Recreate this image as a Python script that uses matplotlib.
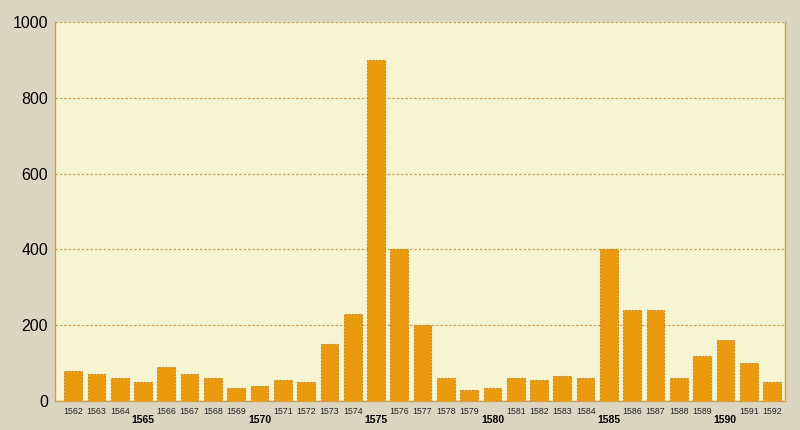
import matplotlib.pyplot as plt
import numpy as np

plt.rcParams['font.family'] = ['Liberation Sans', 'DejaVu Sans']

years = list(range(1562, 1593))
values = [80, 70, 60, 50, 90, 70, 60, 35, 40, 55, 50, 150, 230, 900, 400, 200,
          60, 30, 35, 60, 55, 65, 60, 400, 240, 240, 60, 120, 160, 100, 50]
y_ticks = [0, 200, 400, 600, 800, 1000]

fig = plt.figure(figsize=(8, 4.3), dpi=100, facecolor='#dad6c2')
ax = fig.add_axes([55 / 800, 29 / 430, 730 / 800, 379 / 430])
ax.set_facecolor('#f7f4d2')

x = np.arange(len(years))
ax.bar(x, values, width=0.76, color='#eb9a0e', edgecolor='#c98a20',
       linewidth=0.8, linestyle=(0, (2, 1)), zorder=3)

ax.set_ylim(0, 1000)
ax.set_xlim(-0.78, len(years) - 1 + 0.56)
ax.set_yticks(y_ticks)
ax.set_yticklabels([str(v) for v in y_ticks], fontsize=11.5)
ax.yaxis.grid(True, color='#cf9f55', linestyle=(0, (2, 1.5)), linewidth=0.9)
ax.set_axisbelow(True)
ax.tick_params(axis='y', length=0, pad=5)
ax.tick_params(axis='x', length=0)

ax.set_xticks(x)
ax.set_xticklabels([''] * len(years))
for i, yr in enumerate(years):
    if yr % 5 == 0:
        ax.text(i, -0.038, str(yr), transform=ax.get_xaxis_transform(),
                ha='center', va='top', fontsize=7.5, fontweight='bold')
    else:
        ax.text(i, -0.016, str(yr), transform=ax.get_xaxis_transform(),
                ha='center', va='top', fontsize=6.3, color='#222222')

for side in ['left', 'bottom', 'right']:
    ax.spines[side].set_color('#d0a050')
    ax.spines[side].set_linewidth(1)
ax.spines['top'].set_visible(False)

fig.savefig('out.png', dpi=100, facecolor=fig.get_facecolor())
